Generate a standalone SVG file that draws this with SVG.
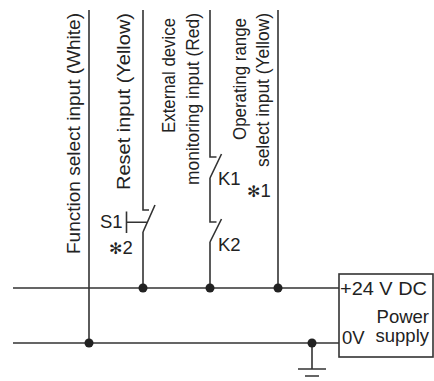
<svg xmlns="http://www.w3.org/2000/svg" width="434" height="381" viewBox="0 0 434 381">
<style>
.w{fill:none;stroke:#333;stroke-width:1.6;stroke-linecap:butt}
.d{fill:#222;stroke:none}
.t{font-family:"Liberation Sans",Arial,sans-serif;fill:#222;font-size:18.5px}
.a{font-family:"DejaVu Sans",sans-serif;font-size:16px;font-weight:bold}
</style>
<rect width="434" height="381" fill="#fff"/>
<g id="connectors">
  <path class="w" d="M89,10V343"/>
  <path class="w" d="M143,10V210H149 M143,232L155,205 M143,232V288 M126.5,222.3H147 M126.5,211.5V233"/>
  <path class="w" d="M210,10V157H216.5 M210,178L221.5,154 M210,178V222H216.5 M210,242L221.5,219 M210,242V288"/>
  <path class="w" d="M278,10V288"/>
  <path class="w" d="M13,288H339 M13,343H339"/>
  <path class="w" d="M312,343V369 M298,369H326 M305,376H319"/>
  <circle class="d" cx="143" cy="288" r="4.5"/>
  <circle class="d" cx="210" cy="288" r="4.5"/>
  <circle class="d" cx="278" cy="288" r="4.5"/>
  <circle class="d" cx="89" cy="343" r="4.5"/>
  <circle class="d" cx="312" cy="343" r="4.5"/>
</g>
<g id="label-function">
  <text class="t" font-size="19.5" transform="translate(80,254) rotate(-90)" textLength="241" lengthAdjust="spacingAndGlyphs">Function select input (White)</text>
</g>
<g id="label-reset">
  <text class="t" font-size="19.5" transform="translate(130,190) rotate(-90)" textLength="177" lengthAdjust="spacingAndGlyphs">Reset input (Yellow)</text>
</g>
<g id="label-external">
  <text class="t" font-size="18" transform="translate(175,133) rotate(-90)" textLength="115" lengthAdjust="spacingAndGlyphs">External device</text>
  <text class="t" font-size="18" transform="translate(199,185) rotate(-90)" textLength="172" lengthAdjust="spacingAndGlyphs">monitoring input (Red)</text>
</g>
<g id="label-operating">
  <text class="t" font-size="18" transform="translate(246,140) rotate(-90)" textLength="122" lengthAdjust="spacingAndGlyphs">Operating range</text>
  <text class="t" font-size="18" transform="translate(269,167) rotate(-90)" textLength="154" lengthAdjust="spacingAndGlyphs">select input (Yellow)</text>
</g>
<g id="S1">
  <text class="t" x="100" y="228">S1</text>
  <text class="t" x="109" y="254"><tspan class="a">✻</tspan>2</text>
</g>
<g id="K1">
  <text class="t" x="218" y="185">K1</text>
  <text class="t" x="247" y="197"><tspan class="a">✻</tspan>1</text>
</g>
<g id="K2">
  <text class="t" x="218" y="251">K2</text>
</g>
<g id="power-supply">
  <rect x="339" y="274" width="94" height="83" fill="none" stroke="#333" stroke-width="1.6"/>
  <text class="t" x="340" y="295" textLength="87" lengthAdjust="spacingAndGlyphs">+24 V DC</text>
  <text class="t" x="429" y="323" text-anchor="end">Power</text>
  <text class="t" x="429" y="342" text-anchor="end">supply</text>
  <text class="t" x="342" y="344" font-size="17">0V</text>
</g>
</svg>
